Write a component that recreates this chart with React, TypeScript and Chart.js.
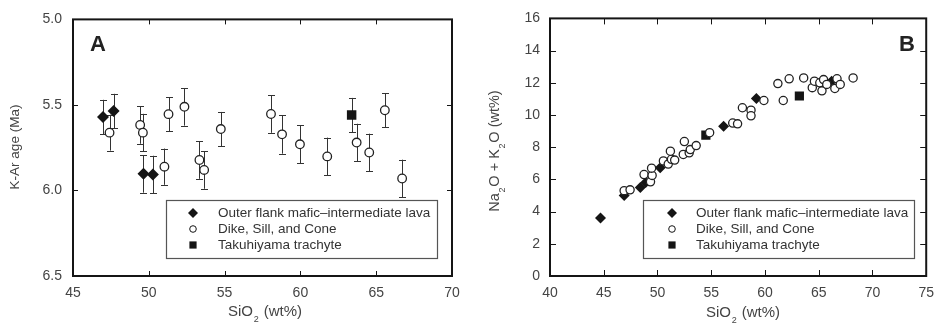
import React, { useEffect, useRef } from 'react';
import { Chart, registerables } from 'chart.js';
Chart.register(...registerables);

const FONT = '"Liberation Sans", Arial, Helvetica, sans-serif';
const INK = '#151515';
const TXT = '#444';

// ---------- Panel A: K-Ar age vs SiO2 ----------
const aLavaSiO2 = [46.98, 47.68, 49.65, 50.27];
const aLavaAge = [5.57, 5.535, 5.903, 5.907];
const aLavaErr = [0.1, 0.1, 0.11, 0.11];

const aDikeSiO2 = [47.41, 49.43, 49.61, 51.03, 51.3, 52.35, 53.34, 53.65, 54.75, 58.06, 58.79, 59.97, 61.77, 63.71, 64.54, 65.57, 66.71];
const aDikeAge = [5.662, 5.617, 5.662, 5.861, 5.554, 5.511, 5.822, 5.88, 5.641, 5.553, 5.672, 5.73, 5.801, 5.72, 5.778, 5.531, 5.93];
const aDikeErr = [0.105, 0.11, 0.11, 0.106, 0.1, 0.11, 0.11, 0.11, 0.1, 0.11, 0.113, 0.11, 0.11, 0.11, 0.11, 0.1, 0.11];

const aTrachSiO2 = [63.38];
const aTrachAge = [5.559];
const aTrachErr = [0.1];

const aXTicks = [45, 50, 55, 60, 65, 70];
const aYTicks = [5.0, 5.5, 6.0, 6.5];

// ---------- Panel B: Na2O + K2O vs SiO2 ----------
const bLavaSiO2 = [44.7, 46.9, 48.4, 48.9, 50.25, 56.15, 59.2, 66.2];
const bLavaAlk = [3.6, 5.0, 5.5, 5.8, 6.72, 9.3, 11.02, 12.1];

const bDikeSiO2 = [46.9, 47.45, 48.75, 49.35, 49.5, 49.45, 50.55, 51.0, 51.3, 51.2, 51.6, 52.4, 52.5, 52.95, 53.05, 53.6, 54.85, 57.0, 57.45, 57.9, 58.7, 58.7, 59.9, 61.2, 61.7, 62.25, 63.6, 64.4, 64.6, 65.1, 65.3, 65.45, 65.75, 66.5, 66.7, 67.0, 68.2];
const bDikeAlk = [5.3, 5.35, 6.3, 5.85, 6.25, 6.7, 7.15, 6.95, 7.25, 7.75, 7.2, 7.55, 8.35, 7.65, 7.85, 8.1, 8.9, 9.5, 9.45, 10.45, 10.3, 9.95, 10.9, 11.95, 10.9, 12.25, 12.3, 11.7, 12.1, 12.0, 11.5, 12.2, 11.9, 11.65, 12.25, 11.9, 12.3];

const bTrachSiO2 = [54.5, 63.2];
const bTrachAlk = [8.75, 11.18];

const bXTicks = [40, 45, 50, 55, 60, 65, 70, 75];
const bYTicks = [0, 2, 4, 6, 8, 10, 12, 14, 16];

const LEGEND_LABELS = ['Outer flank mafic\u2013intermediate lava', 'Dike, Sill, and Cone', 'Takuhiyama trachyte'];
const LEGEND_STYLES = ['diamond', 'circle', 'square'];

type Seg = { t: string; sub?: boolean };

function drawRich(ctx: CanvasRenderingContext2D, segs: Seg[], cx: number, cy: number, size: number, rotate: boolean) {
  ctx.save();
  ctx.translate(cx, cy);
  if (rotate) ctx.rotate(-Math.PI / 2);
  ctx.fillStyle = TXT;
  ctx.textBaseline = 'middle';
  ctx.textAlign = 'left';
  const main = `${size}px ${FONT}`;
  const sub = `${Math.round(size * 0.62)}px ${FONT}`;
  let total = 0;
  const widths = segs.map((s) => {
    ctx.font = s.sub ? sub : main;
    const w = ctx.measureText(s.t).width + (s.sub ? 1.5 : 0);
    total += w;
    return w;
  });
  let x = -total / 2;
  segs.forEach((s, i) => {
    ctx.font = s.sub ? sub : main;
    ctx.fillText(s.t, x + (s.sub ? 0.7 : 0), s.sub ? size * 0.5 : 0);
    x += widths[i];
  });
  ctx.restore();
}

function drawMarker(ctx: CanvasRenderingContext2D, style: string, x: number, y: number) {
  ctx.save();
  ctx.fillStyle = INK;
  ctx.strokeStyle = INK;
  ctx.lineWidth = 1;
  ctx.beginPath();
  if (style === 'diamond') {
    const r = 5;
    ctx.moveTo(x - r, y);
    ctx.lineTo(x, y - r);
    ctx.lineTo(x + r, y);
    ctx.lineTo(x, y + r);
    ctx.closePath();
    ctx.fill();
  } else if (style === 'circle') {
    ctx.fillStyle = '#fff';
    ctx.arc(x, y, 3.3, 0, Math.PI * 2);
    ctx.fill();
    ctx.stroke();
  } else {
    ctx.rect(x - 3.6, y - 3.6, 7.2, 7.2);
    ctx.fill();
  }
  ctx.restore();
}

const decorPlugin = {
  id: 'decor',
  beforeDatasetsDraw(chart: any, _a: any, opts: any) {
    const { ctx, scales } = chart;
    if (!opts.errors) return;
    ctx.save();
    ctx.strokeStyle = '#333';
    ctx.lineWidth = 1;
    chart.data.datasets.forEach((ds: any, di: number) => {
      const errs = opts.errors[di];
      if (!errs) return;
      ds.data.forEach((p: any, i: number) => {
        const e = errs[i];
        const x = Math.round(scales.x.getPixelForValue(p.x)) + 0.5;
        const y1 = scales.y.getPixelForValue(p.y - e);
        const y2 = scales.y.getPixelForValue(p.y + e);
        ctx.beginPath();
        ctx.moveTo(x, y1);
        ctx.lineTo(x, y2);
        ctx.moveTo(x - 3.5, Math.round(y1) + 0.5);
        ctx.lineTo(x + 3.5, Math.round(y1) + 0.5);
        ctx.moveTo(x - 3.5, Math.round(y2) + 0.5);
        ctx.lineTo(x + 3.5, Math.round(y2) + 0.5);
        ctx.stroke();
      });
    });
    ctx.restore();
  },
  afterDraw(chart: any, _a: any, opts: any) {
    const { ctx, chartArea: a, scales } = chart;
    ctx.save();
    ctx.strokeStyle = INK;
    ctx.lineWidth = 1;
    const L = opts.tickLen;
    ctx.beginPath();
    scales.x.ticks.forEach((t: any) => {
      const px = Math.round(scales.x.getPixelForValue(t.value)) + 0.5;
      ctx.moveTo(px, a.bottom);
      ctx.lineTo(px, a.bottom - L);
      ctx.moveTo(px, a.top);
      ctx.lineTo(px, a.top + L);
    });
    scales.y.ticks.forEach((t: any) => {
      const py = Math.round(scales.y.getPixelForValue(t.value)) + 0.5;
      ctx.moveTo(a.left, py);
      ctx.lineTo(a.left + L, py);
      ctx.moveTo(a.right, py);
      ctx.lineTo(a.right - L, py);
    });
    ctx.stroke();
    ctx.lineWidth = 2;
    ctx.strokeRect(a.left, a.top, a.right - a.left, a.bottom - a.top);

    // panel letter
    ctx.fillStyle = '#222';
    ctx.font = `bold 22px ${FONT}`;
    ctx.textAlign = 'center';
    ctx.textBaseline = 'middle';
    ctx.fillText(opts.letter.t, opts.letter.x, opts.letter.y);

    // legend
    const lg = opts.legend;
    ctx.fillStyle = '#fff';
    ctx.fillRect(lg.x, lg.y, lg.w, lg.h);
    ctx.strokeStyle = '#555';
    ctx.lineWidth = 1.2;
    ctx.strokeRect(lg.x + 0.5, lg.y + 0.5, lg.w, lg.h);
    LEGEND_LABELS.forEach((lab, i) => {
      const y = lg.y + 13 + i * 16;
      drawMarker(ctx, LEGEND_STYLES[i], lg.mx, y);
      ctx.fillStyle = '#333';
      ctx.font = `13.5px ${FONT}`;
      ctx.textAlign = 'left';
      ctx.textBaseline = 'middle';
      ctx.fillText(lab, lg.tx, y);
    });
    ctx.restore();

    // axis titles
    drawRich(ctx, opts.xTitle.segs, opts.xTitle.x, opts.xTitle.y, 15, false);
    drawRich(ctx, opts.yTitle.segs, opts.yTitle.x, opts.yTitle.y, opts.yTitle.size, true);
  },
};

function pts(xs: number[], ys: number[]) {
  return xs.map((x, i) => ({ x, y: ys[i] }));
}

function axis(min: number, max: number, ticks: number[], pad: number, fit: (s: any) => void, extra: any = {}) {
  return {
    type: 'linear',
    min,
    max,
    afterBuildTicks: (s: any) => {
      s.ticks = ticks.map((v) => ({ value: v }));
    },
    afterFit: fit,
    grid: { display: false, drawTicks: false },
    border: { display: false },
    ticks: {
      padding: pad,
      color: TXT,
      maxRotation: 0,
      autoSkip: false,
      font: { family: FONT, size: 14 },
      ...(extra.ticks || {}),
    },
    ...(extra.rest || {}),
  };
}

const SIO2: Seg[] = [{ t: 'SiO' }, { t: '2', sub: true }, { t: ' (wt%)' }];

function makeA(canvas: HTMLCanvasElement) {
  return new Chart(canvas, {
    type: 'scatter',
    data: {
      datasets: [
        { label: LEGEND_LABELS[0], data: pts(aLavaSiO2, aLavaAge), pointStyle: 'rectRot', pointRadius: 6, backgroundColor: INK, borderColor: INK, borderWidth: 0 },
        { label: LEGEND_LABELS[1], data: pts(aDikeSiO2, aDikeAge), pointStyle: 'circle', pointRadius: 4.3, backgroundColor: '#fff', borderColor: '#222', borderWidth: 1.3 },
        { label: LEGEND_LABELS[2], data: pts(aTrachSiO2, aTrachAge), pointStyle: 'rect', pointRadius: 6.7, backgroundColor: INK, borderColor: INK, borderWidth: 0 },
      ],
    } as any,
    options: {
      responsive: false,
      animation: false,
      layout: { padding: { left: 0, right: 18, top: 17, bottom: 0 } },
      plugins: {
        legend: { display: false },
        tooltip: { enabled: false },
        decor: {
          tickLen: 5,
          errors: [aLavaErr, aDikeErr, aTrachErr],
          letter: { t: 'A', x: 98, y: 45 },
          legend: { x: 166, y: 200, w: 271, h: 58, mx: 193, tx: 218 },
          xTitle: { segs: SIO2, x: 265, y: 312 },
          yTitle: { segs: [{ t: 'K-Ar age (Ma)' }], x: 15, y: 147, size: 13.5 },
        },
      } as any,
      scales: {
        x: axis(45, 70, aXTicks, 9, (s: any) => { s.height = 55; }),
        y: axis(5, 6.5, aYTicks, 11, (s: any) => { s.width = 73; }, {
          ticks: { callback: (v: any) => Number(v).toFixed(1) },
          rest: { reverse: true },
        }),
      } as any,
    },
    plugins: [decorPlugin as any],
  });
}

function makeB(canvas: HTMLCanvasElement) {
  return new Chart(canvas, {
    type: 'scatter',
    data: {
      datasets: [
        { label: LEGEND_LABELS[1], data: pts(bDikeSiO2, bDikeAlk), pointStyle: 'circle', pointRadius: 4.1, backgroundColor: '#fff', borderColor: '#222', borderWidth: 1.3 },
        { label: LEGEND_LABELS[0], data: pts(bLavaSiO2, bLavaAlk), pointStyle: 'rectRot', pointRadius: 5.5, backgroundColor: INK, borderColor: INK, borderWidth: 0 },
        { label: LEGEND_LABELS[2], data: pts(bTrachSiO2, bTrachAlk), pointStyle: 'rect', pointRadius: 6.5, backgroundColor: INK, borderColor: INK, borderWidth: 0 },
      ],
    } as any,
    options: {
      responsive: false,
      animation: false,
      layout: { padding: { left: 0, right: 12, top: 17, bottom: 0 } },
      plugins: {
        legend: { display: false },
        tooltip: { enabled: false },
        decor: {
          tickLen: 6,
          letter: { t: 'B', x: 437, y: 45 },
          legend: { x: 173, y: 200, w: 271, h: 58, mx: 202, tx: 226 },
          xTitle: { segs: SIO2, x: 273, y: 313 },
          yTitle: { segs: [{ t: 'Na' }, { t: '2', sub: true }, { t: 'O + K' }, { t: '2', sub: true }, { t: 'O (wt%)' }], x: 25, y: 151, size: 14.5 },
        },
      } as any,
      scales: {
        x: axis(40, 75, bXTicks, 9, (s: any) => { s.height = 55; }),
        y: axis(0, 16, bYTicks, 10, (s: any) => { s.width = 80; }),
      } as any,
    },
    plugins: [decorPlugin as any],
  });
}

export default function App() {
  const refA = useRef<HTMLCanvasElement>(null);
  const refB = useRef<HTMLCanvasElement>(null);
  useEffect(() => {
    const ca = makeA(refA.current!);
    const cb = makeB(refB.current!);
    return () => {
      ca.destroy();
      cb.destroy();
    };
  }, []);
  return (
    <div style={{ position: 'absolute', left: 0, top: 0, width: 943, height: 331, background: '#fff' }}>
      <canvas ref={refA} width={470} height={331} style={{ position: 'absolute', left: 0, top: 0, width: 470, height: 331 }} />
      <canvas ref={refB} width={473} height={331} style={{ position: 'absolute', left: 470, top: 0, width: 473, height: 331 }} />
    </div>
  );
}
